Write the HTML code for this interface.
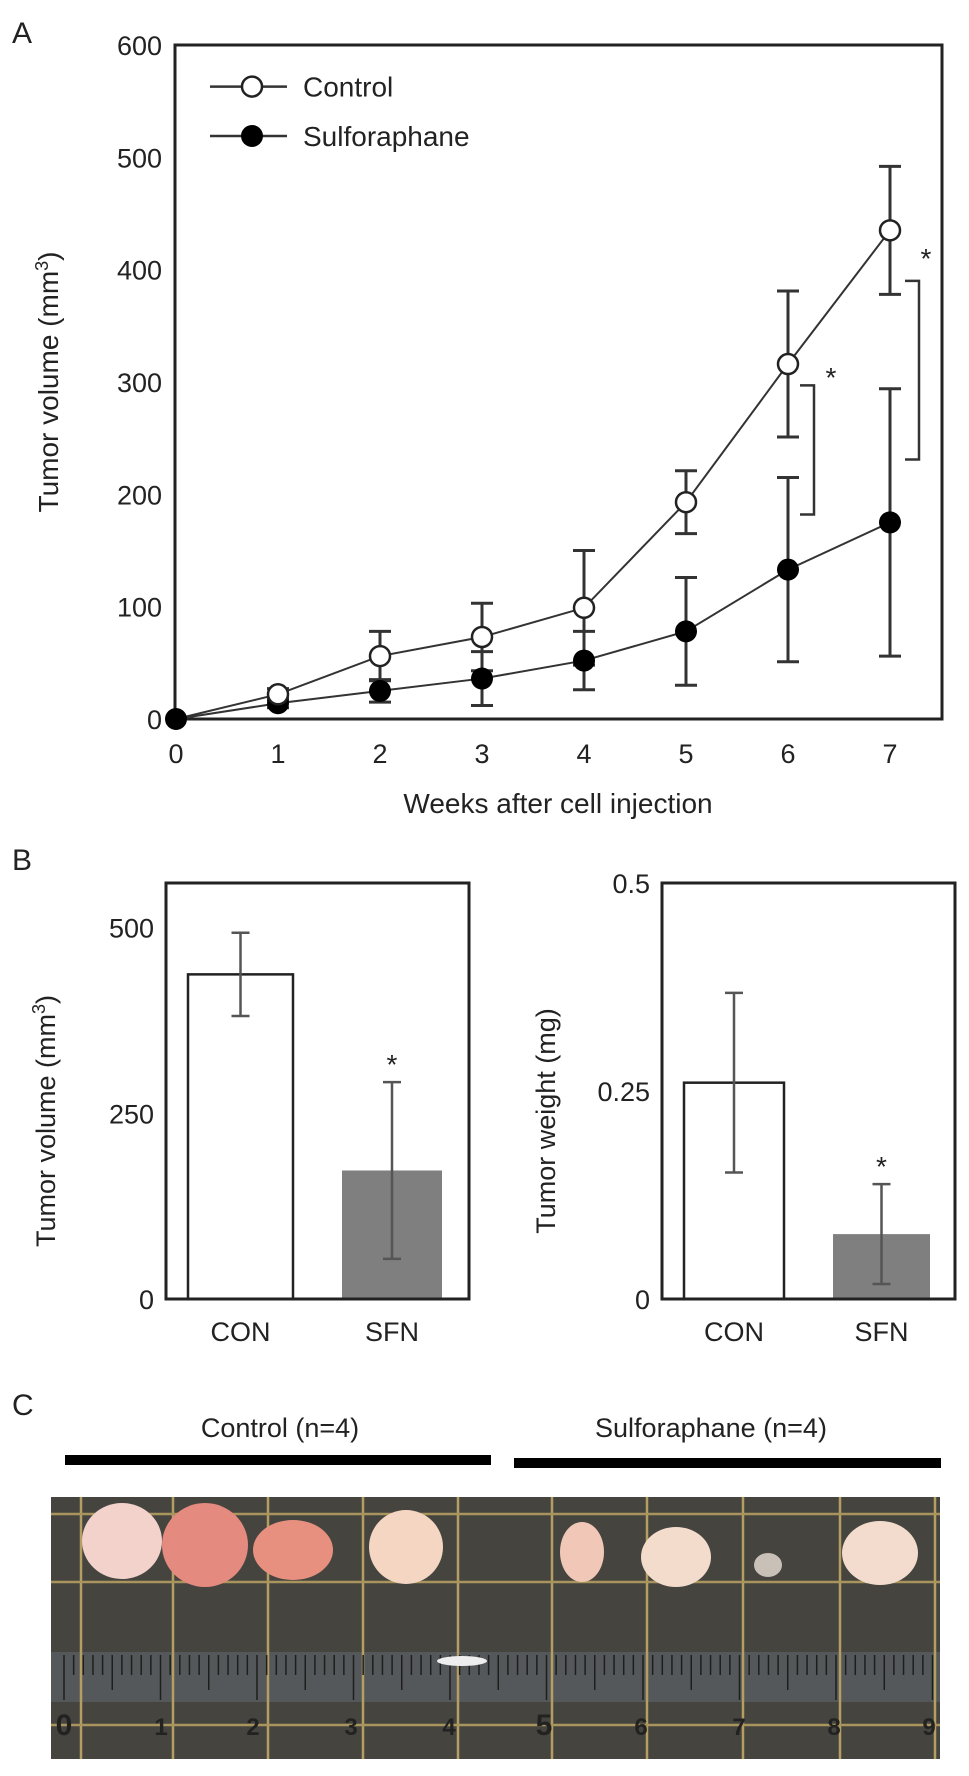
<!DOCTYPE html>
<html><head><meta charset="utf-8"><style>
html,body{margin:0;padding:0;background:#fff}
svg{display:block}
text{font-family:"Liberation Sans",Arial,sans-serif;fill:#222}
</style></head><body>
<svg id="fig" width="969" height="1776" viewBox="0 0 969 1776" xmlns="http://www.w3.org/2000/svg">
<g id="panelA"></g>
<g id="panelB1"></g>
<g id="panelB2"></g>
<g id="panelC"></g>
</svg>
<script>
// ---- Panel A data ----
const weeks = [0,1,2,3,4,5,6,7];
const controlVals = [0,22,56,73,99,193,316,435];
const controlErr = [0,5,22,30,51,28,65,57];
const sfnVals = [0,14,25,36,52,78,133,175];
const sfnErr = [0,4,10,24,26,48,82,119];
const yTicksA = [0,100,200,300,400,500,600];
// ---- Panel B data ----
const barCats = ["CON","SFN"];
const volVals = [437,173];
const volErr = [56,119];
const volTicks = [0,250,500];
const wtVals = [0.26,0.078];
const wtErr = [0.108,0.06];
const wtTicks = [0,0.25,0.5];
const wtTickLabels = ["0","0.25","0.5"];

const NS="http://www.w3.org/2000/svg";
function mk(parent,tag,attrs,txt){const e=document.createElementNS(NS,tag);for(const k in attrs)e.setAttribute(k,attrs[k]);if(txt!==undefined)e.textContent=txt;parent.appendChild(e);return e;}

// Panel A
const A=document.getElementById('panelA');
const ax={l:175,r:942,t:45,b:719};
const xA=w=>176+w*102;
const yA=v=>719-v*(674/600);
let e;
e=mk(document.getElementById('fig'),'text',{x:12,y:43,'font-size':30},'A');


e=mk(A,'rect',{x:ax.l,y:ax.t,width:ax.r-ax.l,height:ax.b-ax.t,fill:'none',stroke:'#222','stroke-width':3});


yTicksA.forEach(v=>{
  e=mk(A,'text',{x:162,y:yA(v)+10,'font-size':27,'text-anchor':'end'},String(v));
  
  
});
weeks.forEach(w=>{
  e=mk(A,'text',{x:xA(w),y:763,'font-size':27,'text-anchor':'middle'},String(w));
  
  
});
e=mk(A,'text',{x:558,y:813,'font-size':28,'text-anchor':'middle'},'Weeks after cell injection');


e=mk(A,'text',{x:0,y:0,'font-size':28,'text-anchor':'middle',transform:'translate(58,382) rotate(-90)'});
e.innerHTML='Tumor volume (mm<tspan dy="-10" font-size="18">3</tspan><tspan dy="10">)</tspan>';


function series(vals,errs,fill,name){
  const g=mk(A,'g',{});
  
  
  weeks.forEach((w,i)=>{ if(errs[i]>0){
    const x=xA(w),y1=yA(vals[i]+errs[i]),y2=yA(vals[i]-errs[i]);
    const eb=mk(g,'path',{d:`M${x},${y1}V${y2}M${x-11},${y1}H${x+11}M${x-11},${y2}H${x+11}`,stroke:'#333','stroke-width':3,fill:'none'});
    
    
  }});
  const ln=mk(g,'polyline',{points:weeks.map((w,i)=>xA(w)+','+yA(vals[i])).join(' '),fill:'none',stroke:'#333','stroke-width':2});
  
  
  return g;
}
const gS=series(sfnVals,sfnErr,'#000','sulforaphane');
const gC=series(controlVals,controlErr,'#fff','control');
weeks.forEach((w,i)=>{
  e=mk(A,'circle',{cx:xA(w),cy:yA(sfnVals[i]),r:11,fill:'#000'});
  
  
});
weeks.forEach((w,i)=>{ if(i>0){
  e=mk(A,'circle',{cx:xA(w),cy:yA(controlVals[i]),r:10,fill:'#fff',stroke:'#222','stroke-width':2.5});
  
  
}});
function bracket(x,v1,v2,sx,sv){
  e=mk(A,'path',{d:`M${x-14},${yA(v1)}H${x}V${yA(v2)}H${x-14}`,stroke:'#333','stroke-width':2.5,fill:'none'});
  
  
  e=mk(A,'text',{x:sx,y:yA(sv)+14,'font-size':28,'text-anchor':'middle',fill:'#444'},'*');
  
  
}
bracket(xA(6)+26,297,182,xA(6)+43,308);
bracket(xA(7)+29,390,231,xA(7)+36,414);
const lg=mk(A,'g',{});


e=mk(lg,'path',{d:`M210,${yA(563)}H287M210,${yA(519)}H287`,stroke:'#333','stroke-width':2.5});
e=mk(lg,'circle',{cx:252,cy:yA(563),r:10,fill:'#fff',stroke:'#222','stroke-width':2.5});


e=mk(lg,'circle',{cx:252,cy:yA(519),r:11,fill:'#000'});


e=mk(lg,'text',{x:303,y:yA(563)+10,'font-size':28},'Control');


e=mk(lg,'text',{x:303,y:yA(519)+10,'font-size':28},'Sulforaphane');



// Panel B
e=mk(document.getElementById('fig'),'text',{x:12,y:870,'font-size':30},'B');


function barChart(gid,box,max,vals,errs,ticks,tickLabels,title,barX,barW,titleX){
  const G=document.getElementById(gid);
  const y=v=>box.b-(v/max)*(box.b-box.t);
  const cols=['#fff','#7f7f7f'];
  vals.forEach((v,i)=>{
    const r=mk(G,'rect',{x:barX[i],y:y(v),width:barW[i],height:box.b-y(v),fill:cols[i],stroke:i==0?'#222':'none','stroke-width':2.5});
    
    
    const cx=barX[i]+barW[i]/2,y1=y(v+errs[i]),y2=y(v-errs[i]);
    const eb=mk(G,'path',{d:`M${cx},${y1}V${y2}M${cx-9},${y1}H${cx+9}M${cx-9},${y2}H${cx+9}`,stroke:'#555','stroke-width':2.5,fill:'none'});
    
    
    const t=mk(G,'text',{x:cx,y:box.b+42,'font-size':27,'text-anchor':'middle'},barCats[i]);
    
    
    if(i==1){
      const s=mk(G,'text',{x:cx,y:y1-8,'font-size':28,'text-anchor':'middle',fill:'#444'},'*');
      
      
    }
  });
  const f=mk(G,'path',{d:`M${box.l},${box.t}H${box.r}V${box.b}H${box.l}Z`,fill:'none',stroke:'#222','stroke-width':3});
  
  
  ticks.forEach((v,i)=>{
    const t=mk(G,'text',{x:box.l-12,y:y(v)+10,'font-size':27,'text-anchor':'end',fill:'#333'},tickLabels[i]);
    
    
  });
  const tt=mk(G,'text',{x:0,y:0,'font-size':27,'text-anchor':'middle',transform:`translate(${titleX},${(box.t+box.b)/2+30}) rotate(-90)`});
  tt.innerHTML=title;
  
  
}
barChart('panelB1',{l:166,r:469,t:883,b:1299},560,volVals,volErr,volTicks,volTicks.map(String),'Tumor volume (mm<tspan dy="-10" font-size="18">3</tspan><tspan dy="10">)</tspan>',[188,342],[105,100],55);
barChart('panelB2',{l:662,r:955,t:883,b:1299},0.5,wtVals,wtErr,wtTicks,wtTickLabels,'Tumor weight (mg)',[684,833],[100,97],555);

// Panel C
const C=document.getElementById('panelC');
e=mk(C,'text',{x:12,y:1415,'font-size':30},'C');


e=mk(C,'text',{x:280,y:1437,'font-size':27,'text-anchor':'middle'},'Control (n=4)');


e=mk(C,'text',{x:711,y:1437,'font-size':27,'text-anchor':'middle'},'Sulforaphane (n=4)');


e=mk(C,'rect',{x:65,y:1455,width:426,height:10,fill:'#000'});


e=mk(C,'rect',{x:514,y:1458,width:427,height:10,fill:'#000'});


const ph=mk(C,'g',{});


mk(ph,'rect',{x:51,y:1497,width:889,height:262,fill:'#45443f'});
mk(ph,'rect',{x:51,y:1652,width:889,height:50,fill:'#55585a'});
[81,173,268,363,458,552,647,743,840,935].forEach(x=>mk(ph,'line',{x1:x,y1:1497,x2:x,y2:1759,stroke:'#b59e62','stroke-width':2.5}));
[1514,1582,1725].forEach(y=>mk(ph,'line',{x1:51,y1:y,x2:940,y2:y,stroke:'#a8945c','stroke-width':2.5}));
for(let i=0;i<=90;i++){const x=64+i*9.65;mk(ph,'line',{x1:x,y1:1655,x2:x,y2:i%10==0?1700:(i%5==0?1690:1675),stroke:'#1e1e1e','stroke-width':1.5});}
mk(ph,'ellipse',{cx:462,cy:1661,rx:25,ry:5,fill:'#eee'});
[64,161,253,351,449,544,641,739,834,929].forEach((x,i)=>{
  const t=mk(ph,'text',{x:x,y:1735,'font-size':i%5==0?30:24,'text-anchor':'middle',fill:i%5==0?'#2a8fe0':'#222','font-weight':'bold'},String(i));
  
  
});
[[122,1541,40,38,'#f2d2cb'],[205,1545,43,42,'#e58a7e'],[293,1550,40,30,'#e8907f'],[406,1547,37,37,'#f4d6c2'],[582,1552,22,30,'#f1c8b8'],[676,1557,35,30,'#f4dccd'],[768,1565,14,12,'#c9c0b8'],[880,1553,38,32,'#f3dccd']].forEach(t=>{
  const el=mk(ph,'ellipse',{cx:t[0],cy:t[1],rx:t[2],ry:t[3],fill:t[4]});
  
  
});
</script>
</body></html>
